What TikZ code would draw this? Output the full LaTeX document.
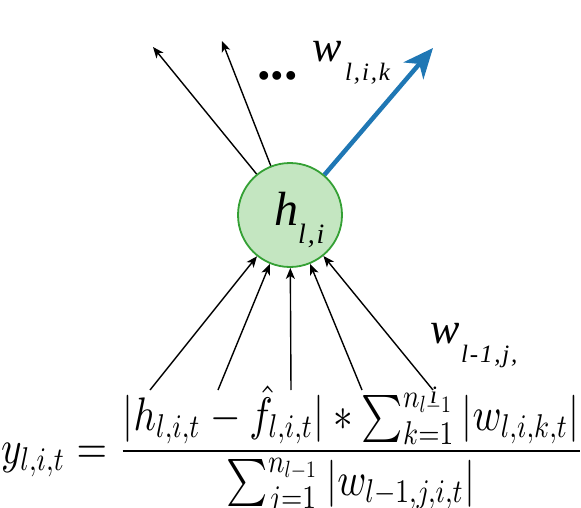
\documentclass[tikz,border=0pt]{standalone}
\usepackage{graphicx}
\usepackage[no-math]{fontspec}
\newfontfamily\timesit{Liberation Serif Italic}
\newfontfamily\timesbf{Liberation Serif Bold}
\DeclareFontShape{OML}{cmm}{m}{it}{<-> cmmi10}{\skewchar\font=127}
\DeclareFontShape{OMS}{cmsy}{m}{n}{<-> cmsy10}{\skewchar\font=48}
\DeclareFontShape{OT1}{cmr}{m}{n}{<-> cmr10}{}
\usetikzlibrary{arrows.meta}
\definecolor{nodefill}{RGB}{196,230,193}
\definecolor{nodedraw}{RGB}{52,160,52}
\definecolor{wblue}{RGB}{31,119,180}
\newcommand\gp{\kern1.8pt}
\begin{document}
\begin{tikzpicture}[x=1pt,y=-1pt,
  neuron/.style={circle,draw=nodedraw,fill=nodefill,line width=1.8pt,minimum size=104pt,inner sep=0pt},
  edge/.style={line width=1.4pt,-{Stealth[length=11pt,width=9pt,inset=3pt]}},
  bigedge/.style={wblue,line width=4.5pt,-{Stealth[length=30pt,width=26pt,inset=9pt]}},
  big/.style={font=\fontsize{44}{44}\selectfont\timesit,inner sep=0pt,anchor=base west},
  bigh/.style={font=\fontsize{48}{48}\selectfont\timesit,inner sep=0pt,anchor=base west},
  sub/.style={font=\fontsize{25}{25}\selectfont\timesit,inner sep=0pt,anchor=base west},
  subh/.style={font=\fontsize{28}{28}\selectfont\timesit,inner sep=0pt,anchor=base west}]
\useasboundingbox (0,0) rectangle (581,508);
\node[neuron] (c) at (290,215) {};
\node[bigh] (hl) at (274,225) {h};
\node[subh] (hs) at (298,243) {l\gp,\gp i};
% outgoing
\coordinate (t1) at (153,47);
\coordinate (t2) at (222,41);
\coordinate (tb) at (433,48);
\draw[edge] (c) -- (t1);
\draw[edge] (c) -- (t2);
\draw[bigedge] (c) -- (tb);
% incoming
\coordinate (s1) at (150,390);
\coordinate (s2) at (218,390);
\coordinate (s3) at (291,390);
\coordinate (s4) at (362,390);
\coordinate (s5) at (433,390);
\foreach \s in {s1,s2,s3,s4,s5} \draw[edge] (\s) -- (c);
% labels
\node[font=\fontsize{54}{54}\selectfont\timesbf,inner sep=0pt,anchor=base west] (dots) at (257,80) {...};
\node[big] (wo) at (312,62) {w};
\node[sub] (wos) at (345,81) {l\gp,\gp i\gp,\gp k};
\node[big] (wi) at (430,343) {w};
\node[sub] (wis) at (461,362) {l\gp-\gp1\gp,\gp j\gp,};
\node[sub] (wii) at (430,403) {i};
% formula
\node[inner sep=0pt,anchor=base west] (eq) at (1,463)
  {\scalebox{3.92}[4.7]{$\displaystyle y_{l,i,t} = \frac{|h_{l,i,t} - \hat{f}_{l,i,t}| * \sum_{k=1}^{n_{l-1}} |w_{l,i,k,t}|}{\sum_{j=1}^{n_{l-1}} |w_{l-1,j,i,t}|}$}};
\end{tikzpicture}
\end{document}
